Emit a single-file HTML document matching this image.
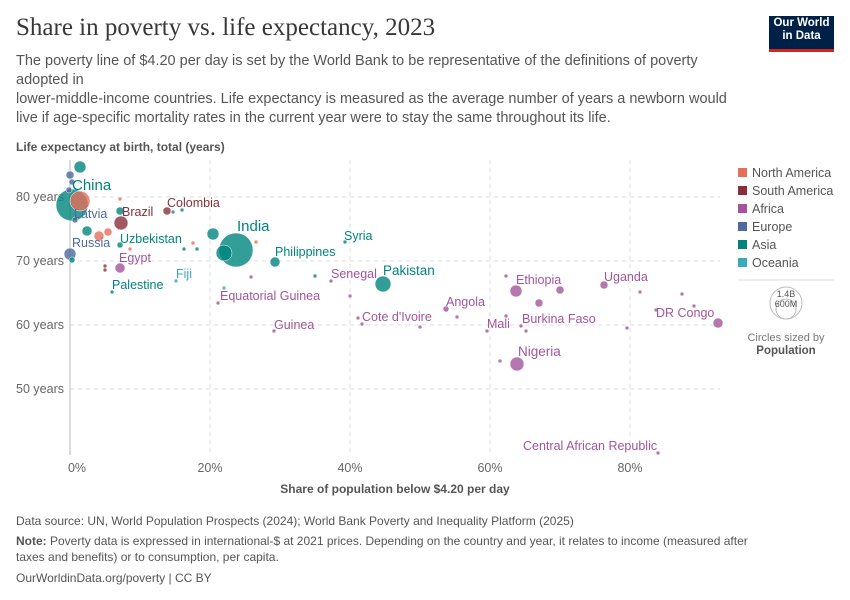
<!DOCTYPE html>
<html><head><meta charset="utf-8"><style>
body{margin:0;background:#fff;font-family:"Liberation Sans",sans-serif;}
.t{position:absolute;left:16px;top:14px;font-family:"Liberation Serif",serif;font-size:25px;color:#383838;}
.s{position:absolute;left:16px;top:52px;width:730px;font-size:14.5px;line-height:19px;color:#555;}
</style></head><body>
<div style="position:relative;width:850px;height:600px;overflow:hidden">
<div class="t">Share in poverty vs. life expectancy, 2023</div>
<div class="s">The poverty line of $4.20 per day is set by the World Bank to be representative of the definitions of poverty adopted in<br>lower-middle-income countries. Life expectancy is measured as the average number of years a newborn would live if age-specific mortality rates in the current year were to stay the same throughout its life.</div>
<div style="position:absolute;left:769px;top:16px;width:65px;height:36px;background:#002147;border-bottom:3px solid #ce261e;color:#fff;font-size:11.5px;line-height:13px;text-align:center;padding-top:1px;box-sizing:border-box;font-weight:bold">Our World<br>in Data</div>
<svg width="850" height="600" style="position:absolute;left:0;top:0" font-family="Liberation Sans, sans-serif">
<text x="16" y="151" font-size="12" font-weight="bold" fill="#555">Life expectancy at birth, total (years)</text>
<g stroke="#ddd" stroke-dasharray="4,4">
<line x1="70" x2="720" y1="197" y2="197"/><line x1="70" x2="720" y1="261" y2="261"/><line x1="70" x2="720" y1="325" y2="325"/><line x1="70" x2="720" y1="389" y2="389"/>
<line x1="210" x2="210" y1="160" y2="455"/><line x1="350" x2="350" y1="160" y2="455"/><line x1="490" x2="490" y1="160" y2="455"/><line x1="630" x2="630" y1="160" y2="455"/>
</g>
<line x1="70" x2="70" y1="160" y2="455" stroke="#bbb"/>
<g font-size="12.5" fill="#666" text-anchor="end"><text x="64" y="201">80 years</text><text x="64" y="265">70 years</text><text x="64" y="329">60 years</text><text x="64" y="393">50 years</text></g>
<g font-size="12.5" fill="#666" text-anchor="middle"><text x="77" y="472">0%</text><text x="210" y="472">20%</text><text x="350" y="472">40%</text><text x="490" y="472">60%</text><text x="630" y="472">80%</text></g>
<text x="395" y="493" font-size="12" font-weight="bold" fill="#555" text-anchor="middle">Share of population below $4.20 per day</text>
<g fill-opacity="0.8" stroke="#fff" stroke-width="0.5">
<circle cx="80" cy="167" r="6" fill="#00847e"/>
<circle cx="72" cy="205" r="16" fill="#00847e"/>
<circle cx="80" cy="201" r="10" fill="#e56e5a"/>
<circle cx="70" cy="175" r="4" fill="#4c6a9c"/><circle cx="72" cy="182" r="3" fill="#4c6a9c"/><circle cx="69" cy="190" r="3" fill="#4c6a9c"/><circle cx="75" cy="220" r="3" fill="#4c6a9c"/>
<circle cx="70" cy="254" r="6" fill="#4c6a9c"/><circle cx="72" cy="260" r="3" fill="#00847e"/>
<circle cx="121" cy="223" r="7" fill="#883039"/><circle cx="99" cy="236" r="5" fill="#e56e5a"/><circle cx="108" cy="232" r="4" fill="#e56e5a"/>
<circle cx="87" cy="231" r="5" fill="#00847e"/><circle cx="120" cy="211" r="4" fill="#00847e"/><circle cx="120" cy="245" r="3" fill="#00847e"/>
<circle cx="120" cy="268" r="5" fill="#a2559c"/><circle cx="105" cy="266" r="2" fill="#883039"/><circle cx="105" cy="270" r="2" fill="#883039"/>
<circle cx="112" cy="292" r="2" fill="#00847e"/><circle cx="120" cy="199" r="2" fill="#e56e5a"/><circle cx="130" cy="249" r="2" fill="#e56e5a"/>
<circle cx="167" cy="211" r="4" fill="#883039"/><circle cx="173" cy="212" r="2" fill="#4c6a9c"/><circle cx="182" cy="210" r="2" fill="#00847e"/>
<circle cx="213" cy="234" r="6" fill="#00847e"/><circle cx="236" cy="250" r="17" fill="#00847e"/><circle cx="224" cy="253" r="8" fill="#00847e"/>
<circle cx="275" cy="262" r="5" fill="#00847e"/><circle cx="256" cy="242" r="2" fill="#e56e5a"/><circle cx="193" cy="243" r="2" fill="#e56e5a"/><circle cx="184" cy="249" r="2" fill="#00847e"/><circle cx="197" cy="249" r="2" fill="#00847e"/>
<circle cx="176" cy="281" r="2" fill="#38aaba"/><circle cx="224" cy="288" r="2" fill="#38aaba"/><circle cx="251" cy="277" r="2" fill="#a2559c"/>
<circle cx="218" cy="303" r="2" fill="#a2559c"/><circle cx="274" cy="331" r="2" fill="#a2559c"/>
<circle cx="345" cy="242" r="2" fill="#00847e"/><circle cx="315" cy="276" r="2" fill="#00847e"/><circle cx="331" cy="281" r="2" fill="#a2559c"/>
<circle cx="383" cy="284" r="8" fill="#00847e"/><circle cx="350" cy="296" r="2" fill="#a2559c"/>
<circle cx="358" cy="318" r="2" fill="#a2559c"/><circle cx="362" cy="324" r="2" fill="#a2559c"/><circle cx="420" cy="327" r="2" fill="#a2559c"/>
<circle cx="446" cy="309" r="3" fill="#a2559c"/><circle cx="457" cy="317" r="2" fill="#a2559c"/>
<circle cx="487" cy="331" r="2" fill="#a2559c"/><circle cx="500" cy="361" r="2" fill="#a2559c"/><circle cx="517" cy="364" r="7" fill="#a2559c"/>
<circle cx="506" cy="276" r="2" fill="#a2559c"/><circle cx="516" cy="291" r="6" fill="#a2559c"/><circle cx="560" cy="290" r="4" fill="#a2559c"/>
<circle cx="539" cy="303" r="4" fill="#a2559c"/><circle cx="506" cy="316" r="2" fill="#a2559c"/><circle cx="521" cy="326" r="2" fill="#a2559c"/><circle cx="526" cy="331" r="2" fill="#a2559c"/>
<circle cx="604" cy="285" r="4" fill="#a2559c"/><circle cx="640" cy="292" r="2" fill="#a2559c"/><circle cx="682" cy="294" r="2" fill="#a2559c"/><circle cx="694" cy="306" r="2" fill="#a2559c"/>
<circle cx="656" cy="310" r="2" fill="#a2559c"/><circle cx="627" cy="328" r="2" fill="#a2559c"/><circle cx="718" cy="323" r="5" fill="#a2559c"/>
<circle cx="658" cy="453" r="2" fill="#a2559c"/>
</g>
<g font-size="12.5">
<text x="72" y="190" fill="#00847e" font-size="15">China</text>
<text x="74" y="218" fill="#4c6a9c">Latvia</text>
<text x="72" y="247" fill="#4c6a9c">Russia</text>
<text x="122" y="216" fill="#883039">Brazil</text>
<text x="167" y="207" fill="#883039">Colombia</text>
<text x="120" y="243" fill="#00847e">Uzbekistan</text>
<text x="119" y="262" fill="#a2559c">Egypt</text>
<text x="112" y="289" fill="#00847e">Palestine</text>
<text x="176" y="278" fill="#38aaba">Fiji</text>
<text x="237" y="231" fill="#00847e" font-size="15">India</text>
<text x="275" y="256" fill="#00847e">Philippines</text>
<text x="344" y="240" fill="#00847e">Syria</text>
<text x="331" y="278" fill="#a2559c">Senegal</text>
<text x="383" y="275" fill="#00847e" font-size="13.5">Pakistan</text>
<text x="220" y="300" fill="#a2559c">Equatorial Guinea</text>
<text x="274" y="329" fill="#a2559c">Guinea</text>
<text x="362" y="321" fill="#a2559c">Cote d'Ivoire</text>
<text x="446" y="306" fill="#a2559c">Angola</text>
<text x="487" y="328" fill="#a2559c">Mali</text>
<text x="522" y="323" fill="#a2559c">Burkina Faso</text>
<text x="516" y="284" fill="#a2559c">Ethiopia</text>
<text x="604" y="281" fill="#a2559c">Uganda</text>
<text x="656" y="317" fill="#a2559c">DR Congo</text>
<text x="518" y="356" fill="#a2559c" font-size="13.5">Nigeria</text>
<text x="523" y="450" fill="#a2559c">Central African Republic</text>
</g>
<g font-size="12.5" fill="#555">
<rect x="738" y="168" width="9" height="9" fill="#e56e5a"/><text x="752" y="177">North America</text>
<rect x="738" y="186" width="9" height="9" fill="#883039"/><text x="752" y="195">South America</text>
<rect x="738" y="204" width="9" height="9" fill="#a2559c"/><text x="752" y="213">Africa</text>
<rect x="738" y="222" width="9" height="9" fill="#4c6a9c"/><text x="752" y="231">Europe</text>
<rect x="738" y="240" width="9" height="9" fill="#00847e"/><text x="752" y="249">Asia</text>
<rect x="738" y="258" width="9" height="9" fill="#38aaba"/><text x="752" y="267">Oceania</text>
</g>
<line x1="738" x2="834" y1="280" y2="280" stroke="#ddd"/>
<circle cx="786" cy="303" r="16" fill="none" stroke="#bbb"/><circle cx="786" cy="309" r="10" fill="none" stroke="#bbb"/>
<text x="786" y="297" font-size="9" fill="#555" text-anchor="middle">1.4B</text><text x="786" y="307" font-size="9" fill="#555" text-anchor="middle">600M</text>
<text x="786" y="341" font-size="11" fill="#777" text-anchor="middle">Circles sized by</text>
<text x="786" y="354" font-size="11.5" font-weight="bold" fill="#555" text-anchor="middle">Population</text>
<g font-size="12" fill="#555">
<text x="16" y="525">Data source: UN, World Population Prospects (2024); World Bank Poverty and Inequality Platform (2025)</text>
<text x="16" y="545"><tspan font-weight="bold">Note:</tspan> Poverty data is expressed in international-$ at 2021 prices. Depending on the country and year, it relates to income (measured after</text>
<text x="16" y="561">taxes and benefits) or to consumption, per capita.</text>
<text x="16" y="582">OurWorldinData.org/poverty | CC BY</text>
</g>
</svg>
</div>
</body></html>
